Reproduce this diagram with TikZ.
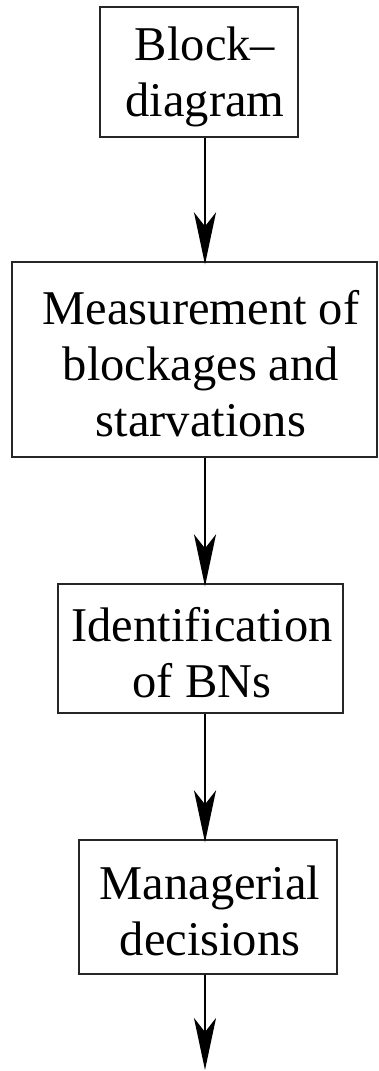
\documentclass[tikz,border=0pt]{standalone}
\usepackage{fontspec}
\setmainfont{Liberation Serif}
\usetikzlibrary{arrows.meta}
\begin{document}
\begin{tikzpicture}[x=1pt,y=-1pt,
  blockbox/.style={draw=black!85, line width=1.3pt, inner sep=0pt},
  blocktext/.style={inner sep=0pt, align=center, font=\fontsize{48.5}{56}\selectfont},
  flowarrow/.style={line width=2.8pt, -{Stealth[length=52pt,width=22pt,inset=14pt]}}]
\useasboundingbox (0,0) rectangle (378,1071);
\node[blockbox, minimum width=198pt, minimum height=130pt] (b1) at (199,72) {};
\node[blocktext] (t1) at (205,77) {Block–\\diagram};
\node[blockbox, minimum width=365pt, minimum height=195pt] (b2) at (194.5,359.5) {};
\node[blocktext] (t2) at (201,364) {Measurement of\\blockages and\\starvations};
\node[blockbox, minimum width=285pt, minimum height=129pt] (b3) at (200.5,648.5) {};
\node[blocktext] (t3) at (202,653) {Identification\\of BNs};
\node[blockbox, minimum width=258pt, minimum height=134pt] (b4) at (208,907) {};
\node[blocktext] (t4) at (210,911) {Managerial\\decisions};
\coordinate (ax) at (205,0);
\coordinate (end) at (205,1070);
\draw[flowarrow] (b1.south -| ax) -- ([yshift=-3pt]b2.north -| ax);
\draw[flowarrow] (b2.south -| ax) -- ([yshift=-3pt]b3.north -| ax);
\draw[flowarrow] (b3.south -| ax) -- ([yshift=-3pt]b4.north -| ax);
\draw[flowarrow] (b4.south -| ax) -- (end);
\end{tikzpicture}
\end{document}
